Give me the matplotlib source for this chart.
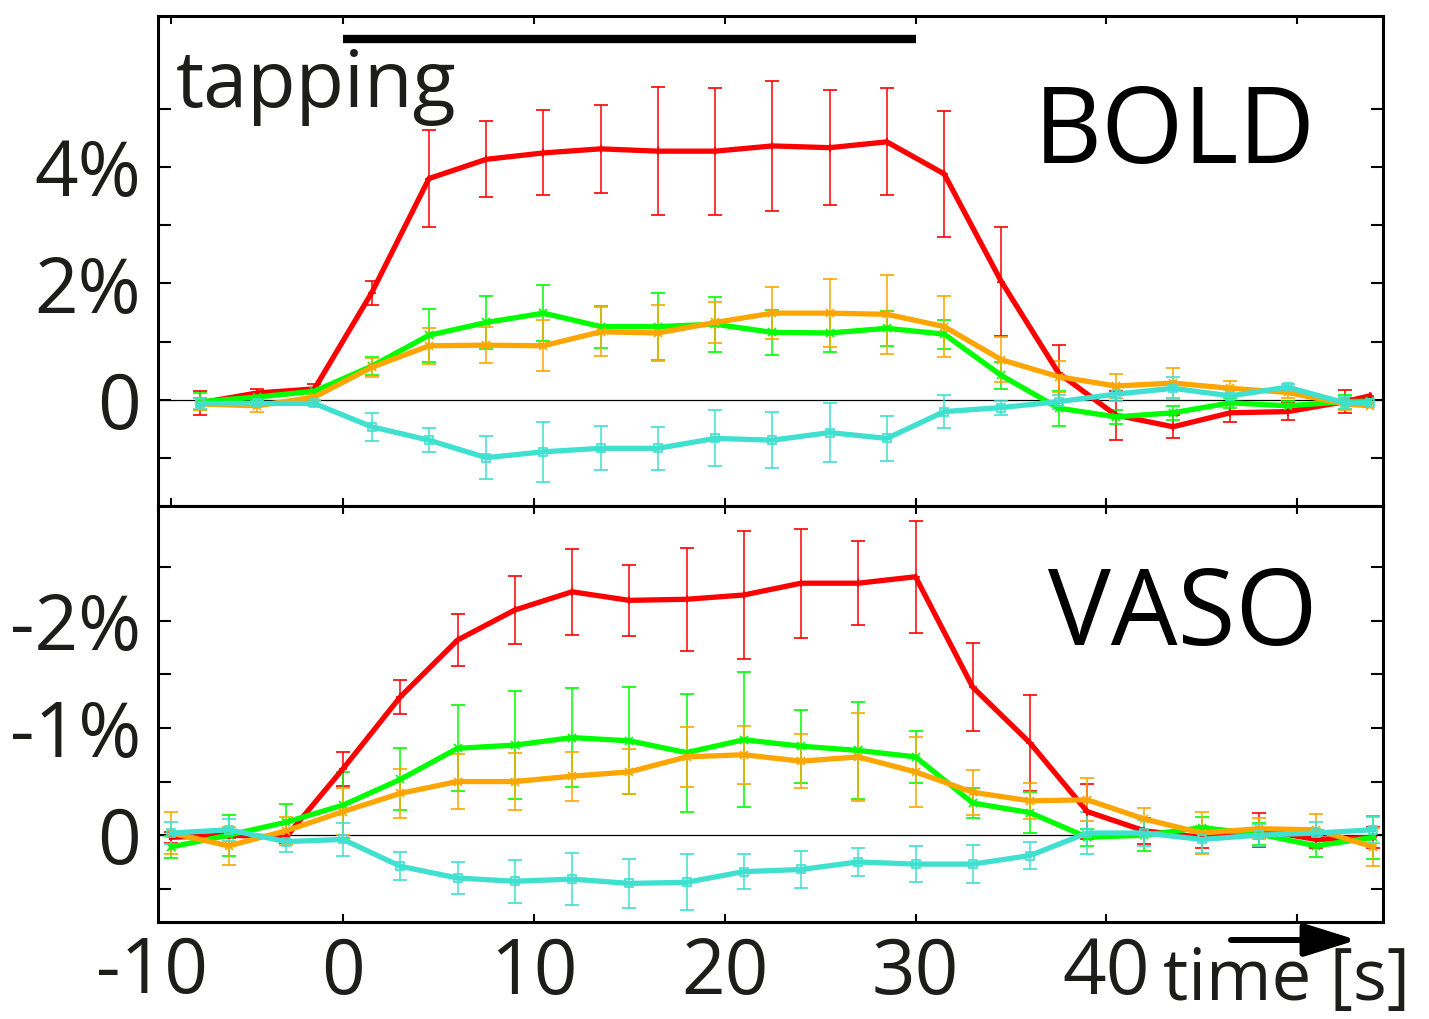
import numpy as np
import matplotlib
matplotlib.use("Agg")
import matplotlib.pyplot as plt

plt.rcParams['font.family'] = ['Open Sans', 'DejaVu Sans']

# ---------------- data ----------------
t_bold = [-7.5, -4.5, -1.5, 1.5, 4.5, 7.5, 10.5, 13.5, 16.5, 19.5, 22.5, 25.5,
          28.5, 31.5, 34.5, 37.5, 40.5, 43.5, 46.5, 49.5, 52.5, 53.8]
t_vaso = [-9, -6, -3, 0, 3, 6, 9, 12, 15, 18, 21, 24, 27, 30, 33, 36, 39, 42,
          45, 48, 51, 54]

bold_red = [-0.05, 0.12, 0.19, 1.84, 3.80, 4.13, 4.24, 4.31, 4.27, 4.27, 4.36,
            4.33, 4.43, 3.88, 2.03, 0.46, -0.26, -0.46, -0.22, -0.20, -0.03, 0.07]
bold_red_err = [0.20, 0.07, 0.08, 0.21, 0.83, 0.65, 0.73, 0.75, 1.10, 1.09, 1.12,
                0.99, 0.92, 1.08, 0.93, 0.48, 0.42, 0.20, 0.15, 0.15, 0.20, np.nan]
bold_green = [-0.03, 0.05, 0.15, 0.58, 1.11, 1.33, 1.49, 1.26, 1.26, 1.30, 1.16,
              1.15, 1.23, 1.13, 0.42, -0.14, -0.29, -0.22, -0.05, -0.10, -0.03, -0.02]
bold_green_err = [0.15, 0.05, 0.05, 0.16, 0.45, 0.46, 0.48, 0.36, 0.58, 0.47, 0.39,
                  0.33, 0.30, 0.25, 0.23, 0.30, 0.12, 0.12, 0.08, 0.08, 0.12, np.nan]
bold_orange = [-0.07, -0.10, 0.05, 0.56, 0.93, 0.94, 0.93, 1.17, 1.15, 1.33, 1.49,
               1.49, 1.47, 1.26, 0.69, 0.40, 0.24, 0.29, 0.20, 0.13, -0.07, -0.10]
bold_orange_err = [0.10, 0.10, 0.05, 0.16, 0.31, 0.31, 0.44, 0.42, 0.48, 0.35, 0.45,
                   0.58, 0.68, 0.52, 0.39, 0.27, 0.20, 0.25, 0.12, 0.10, 0.10, np.nan]
bold_cyan = [-0.06, -0.06, -0.06, -0.46, -0.69, -0.99, -0.89, -0.83, -0.83, -0.66,
             -0.69, -0.56, -0.66, -0.20, -0.13, -0.03, 0.10, 0.20, 0.07, 0.22, -0.05, -0.05]
bold_cyan_err = [0.10, 0.05, 0.05, 0.24, 0.21, 0.37, 0.51, 0.38, 0.37, 0.48, 0.48,
                 0.51, 0.39, 0.28, 0.12, 0.12, 0.12, 0.19, 0.10, 0.06, 0.10, np.nan]

vaso_red = [0.02, 0.00, 0.02, -0.62, -1.29, -1.82, -2.10, -2.27, -2.19, -2.20, -2.24,
            -2.35, -2.35, -2.41, -1.38, -0.86, -0.22, -0.04, 0.02, -0.05, 0.04, 0.02]
vaso_red_err = [0.05, 0.03, 0.05, 0.16, 0.16, 0.24, 0.32, 0.40, 0.33, 0.48, 0.60,
                0.51, 0.39, 0.52, 0.41, 0.45, 0.26, 0.12, 0.10, 0.16, 0.08, 0.10]
vaso_green = [0.11, 0.00, -0.12, -0.28, -0.52, -0.81, -0.84, -0.91, -0.88, -0.77,
              -0.89, -0.83, -0.79, -0.73, -0.30, -0.21, 0.02, 0.00, -0.07, -0.01, 0.10, 0.02]
vaso_green_err = [0.10, 0.19, 0.17, 0.31, 0.29, 0.40, 0.50, 0.46, 0.50, 0.55, 0.63,
                  0.34, 0.45, 0.24, 0.14, 0.19, 0.08, 0.15, 0.10, 0.10, 0.10, 0.20]
vaso_orange = [-0.02, 0.10, -0.04, -0.22, -0.39, -0.50, -0.50, -0.55, -0.59, -0.73,
               -0.75, -0.69, -0.73, -0.59, -0.40, -0.32, -0.33, -0.15, -0.02, -0.06, -0.05, 0.11]
vaso_orange_err = [0.20, 0.18, 0.13, 0.22, 0.23, 0.26, 0.27, 0.23, 0.21, 0.28, 0.27,
                   0.25, 0.41, 0.33, 0.21, 0.17, 0.20, 0.10, 0.20, 0.10, 0.15, 0.18]
vaso_cyan = [-0.02, -0.05, 0.06, 0.04, 0.29, 0.40, 0.43, 0.41, 0.45, 0.44, 0.34,
             0.32, 0.25, 0.27, 0.27, 0.19, -0.02, -0.02, 0.04, 0.00, -0.02, -0.05]
vaso_cyan_err = [0.10, 0.10, 0.10, 0.15, 0.13, 0.15, 0.20, 0.24, 0.23, 0.26, 0.16,
                 0.17, 0.13, 0.17, 0.18, 0.13, 0.20, 0.12, 0.13, 0.10, 0.10, 0.12]

stim_block = [0, 30]
stim_level = 6.19

bold_ticks = [-1, 0, 1, 2, 3, 4, 5]
bold_ticklabels = ['', '0', '', '2%', '', '4%', '']
vaso_ticks = [0.5, 0, -0.5, -1, -1.5, -2, -2.5]
vaso_ticklabels = ['', '0', '', '-1%', '', '-2%', '']
x_ticks = [0, 10, 20, 30, 40, 50]
x_ticklabels = ['0', '10', '20', '30', '40', '']

colors = {'red': '#FF0000', 'green': '#00FF00', 'orange': '#FFA500', 'cyan': '#40E0D0'}
markers = {'red': '+', 'green': 'x', 'orange': 'x', 'cyan': 's'}

# ---------------- figure ----------------
W, H = 1429, 1019
fig = plt.figure(figsize=(W / 100, H / 100), dpi=100)
ax1 = fig.add_axes([158 / W, 1 - 506 / H, (1383 - 158) / W, (506 - 16) / H])
ax2 = fig.add_axes([158 / W, 1 - 922 / H, (1383 - 158) / W, (922 - 506) / H])

txtcol = '#1d1d1b'
tick_fs = 55


def draw(ax, t, series):
    for name, (y, e) in series:
        c = colors[name]
        ax.errorbar(t, y, yerr=e, color=c, lw=3.8, elinewidth=1.1, capsize=5,
                    capthick=1.1, marker=markers[name], ms=6, mew=1.2,
                    mfc='none' if name == 'cyan' else c, zorder=3)


draw(ax1, t_bold, [('red', (bold_red, bold_red_err)),
                   ('green', (bold_green, bold_green_err)),
                   ('orange', (bold_orange, bold_orange_err)),
                   ('cyan', (bold_cyan, bold_cyan_err))])
draw(ax2, t_vaso, [('red', (vaso_red, vaso_red_err)),
                   ('green', (vaso_green, vaso_green_err)),
                   ('orange', (vaso_orange, vaso_orange_err)),
                   ('cyan', (vaso_cyan, vaso_cyan_err))])

for ax in (ax1, ax2):
    ax.axhline(0, color='black', lw=0.9, zorder=2)
    ax.set_xlim(-9.7, 54.5)
    for s in ax.spines.values():
        s.set_linewidth(2.2)
        s.set_color('black')
    ax.tick_params(axis='y', which='major', direction='in', length=9, width=1.5,
                   left=True, right=True, labelsize=tick_fs, labelcolor=txtcol, pad=12)
    ax.tick_params(axis='x', which='major', direction='in', length=6, width=1.5,
                   top=True, bottom=True, labelsize=tick_fs, labelcolor=txtcol, pad=10)

ax1.set_ylim(-1.82, 6.59)
ax1.set_yticks(bold_ticks)
ax1.set_yticklabels(bold_ticklabels)
ax1.set_xticks([-9] + x_ticks)
ax1.tick_params(axis='x', labelbottom=False)

ax2.set_ylim(0.81, -3.07)
ax2.set_yticks(vaso_ticks)
ax2.set_yticklabels(vaso_ticklabels)
ax2.set_xticks(x_ticks)
ax2.set_xticklabels(x_ticklabels)
ax2.text(-10, -0.03, '-10', transform=ax2.get_xaxis_transform(), ha='center',
         va='top', fontsize=tick_fs, color=txtcol)

# stimulation bar
ax1.plot(stim_block, [stim_level, stim_level], color='black', lw=6,
         solid_capstyle='butt', clip_on=False)
fig.text(176 / W, 1 - 107 / H, 'tapping', fontsize=57, color=txtcol,
         ha='left', va='baseline')
fig.text(1316 / W, 1 - 163 / H, 'BOLD', fontsize=76, color='black',
         ha='right', va='baseline')
fig.text(1318 / W, 1 - 645 / H, 'VASO', fontsize=76, color='black',
         ha='right', va='baseline')
fig.text(1163 / W, 1 - 1000 / H, 'time [s]', fontsize=51, color=txtcol,
         ha='left', va='baseline')
fig.patches.append(matplotlib.patches.FancyArrowPatch(
    (1231 / W, 1 - 940 / H), (1357 / W, 1 - 940 / H), transform=fig.transFigure,
    arrowstyle='-|>,head_length=1.6,head_width=0.5', mutation_scale=20,
    color='black', lw=4.3, shrinkA=0, shrinkB=0))

fig.savefig('out.png', dpi=100)
